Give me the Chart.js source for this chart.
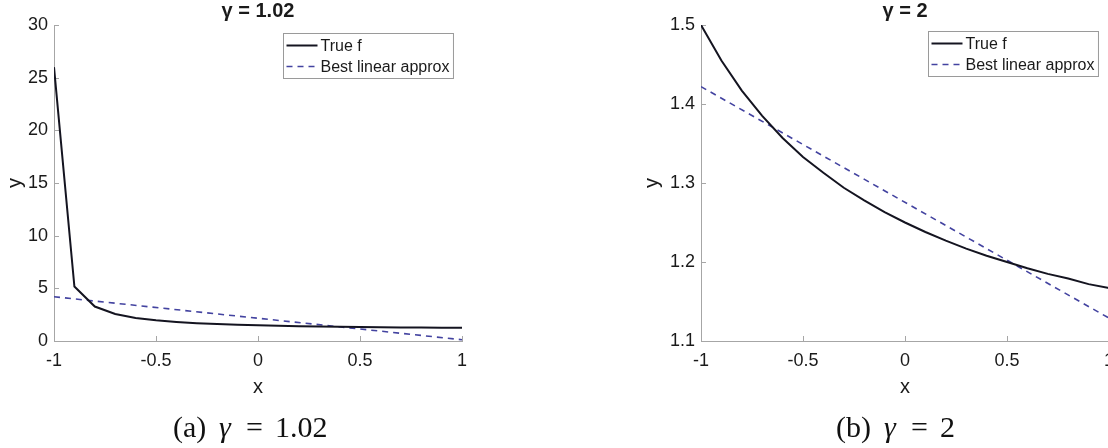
<!DOCTYPE html>
<html>
<head>
<meta charset="utf-8">
<script src="https://cdn.jsdelivr.net/npm/chart.js@4.4.1/dist/chart.umd.min.js"></script>
<style>
  html, body { margin: 0; padding: 0; background: #fff; }
  body { width: 1108px; height: 448px; overflow: hidden; position: relative; }
  canvas { position: absolute; top: 0; }
  #chartA { left: 0; }
  #chartB { left: 560px; }
</style>
</head>
<body>
<canvas id="chartA" width="560" height="448"></canvas>
<canvas id="chartB" width="600" height="448"></canvas>
<script>
// data
const xs = [-1, -0.9, -0.8, -0.7, -0.6, -0.5, -0.4, -0.3, -0.2, -0.1, 0, 0.1, 0.2, 0.3, 0.4, 0.5, 0.6, 0.7, 0.8, 0.9, 1];
const trueA = [26.0, 5.17, 3.27, 2.56, 2.19, 1.96, 1.81, 1.69, 1.61, 1.54, 1.49, 1.45, 1.41, 1.38, 1.35, 1.33, 1.31, 1.29, 1.27, 1.26, 1.25];
const trueB = [1.5, 1.455, 1.417, 1.385, 1.357, 1.333, 1.313, 1.294, 1.278, 1.263, 1.25, 1.238, 1.227, 1.217, 1.208, 1.2, 1.192, 1.185, 1.179, 1.172, 1.167];
const linX = [-1, 1];
const linA = [4.2, 0.12];
const linB = [1.422, 1.129];
const xTicks = [-1, -0.5, 0, 0.5, 1];
const yTicksA = [0, 5, 10, 15, 20, 25, 30];
const yTicksB = [1.1, 1.2, 1.3, 1.4, 1.5];
const seriesNames = ["True f", "Best linear approx"];

const SANS = "'Liberation Sans', Arial, sans-serif";
const SERIF = "'Liberation Serif', 'Times New Roman', serif";
const AXIS = "#a6a6a6";
const INK = "#1a1a1a";

const pairs = (xv, yv) => xv.map((x, i) => ({ x: x, y: yv[i] }));

// title, inward ticks, boxed legend and caption
const decor = {
  id: "decor",
  beforeDatasetsDraw(chart) {
    const { ctx, chartArea: a, scales } = chart;
    ctx.save();
    ctx.strokeStyle = AXIS;
    ctx.lineWidth = 1;
    ctx.beginPath();
    scales.x.ticks.forEach(t => {
      const px = Math.round(scales.x.getPixelForValue(t.value)) + 0.5;
      ctx.moveTo(px, a.bottom);
      ctx.lineTo(px, a.bottom - 5);
    });
    scales.y.ticks.forEach(t => {
      const py = Math.round(scales.y.getPixelForValue(t.value)) + 0.5;
      ctx.moveTo(a.left, py);
      ctx.lineTo(a.left + 5, py);
    });
    ctx.stroke();
    ctx.restore();
  },
  afterDraw(chart, args, o) {
    const { ctx, chartArea: a } = chart;
    ctx.save();
    // title
    ctx.fillStyle = INK;
    ctx.font = "bold 20px " + SANS;
    ctx.textAlign = "center";
    ctx.textBaseline = "middle";
    ctx.fillText(o.title, (a.left + a.right) / 2, 11);

    // legend
    ctx.font = "16px " + SANS;
    const ds = chart.data.datasets;
    const tw = Math.max(...ds.map(d => ctx.measureText(d.label).width));
    const w = 37 + tw + 4, h = 45;
    const bx = Math.round(o.legendRight - w) + 0.5, by = o.legendTop + 0.5;
    ctx.fillStyle = "#fff";
    ctx.fillRect(bx, by, w, h);
    ctx.strokeStyle = "#9a9a9a";
    ctx.lineWidth = 1;
    ctx.strokeRect(bx, by, w, h);
    ds.forEach((d, i) => {
      const cy = by + 12 + i * 21;
      ctx.strokeStyle = d.borderColor;
      ctx.lineWidth = d.borderWidth;
      ctx.setLineDash(d.borderDash || []);
      ctx.beginPath();
      ctx.moveTo(bx + 3, cy);
      ctx.lineTo(bx + 34, cy);
      ctx.stroke();
      ctx.setLineDash([]);
      ctx.fillStyle = INK;
      ctx.textAlign = "left";
      ctx.textBaseline = "middle";
      ctx.fillText(d.label, bx + 37, cy + 1);
    });

    // caption, pieces placed like the typeset original
    ctx.fillStyle = "#111";
    ctx.textAlign = "left";
    ctx.textBaseline = "alphabetic";
    o.caption.forEach(p => {
      ctx.font = (p.italic ? "italic " : "") + "30px " + SERIF;
      ctx.fillText(p.t, o.captionX + p.dx, 437);
    });
    ctx.restore();
  }
};

function makeChart(id, trueY, linY, yTicks, padL, yWidth, padR, deco) {
  return new Chart(document.getElementById(id), {
    type: "line",
    data: {
      datasets: [
        {
          label: seriesNames[0],
          data: pairs(xs, trueY),
          borderColor: "#141420",
          borderWidth: 2,
          pointRadius: 0,
          tension: 0,
        },
        {
          label: seriesNames[1],
          data: pairs(linX, linY),
          borderColor: "#4343a0",
          borderWidth: 1.6,
          borderDash: [6, 5],
          pointRadius: 0,
        },
      ],
    },
    options: {
      responsive: false,
      animation: false,
      devicePixelRatio: 1,
      layout: { padding: { left: padL, right: padR, top: 25, bottom: 0 } },
      plugins: { legend: { display: false }, tooltip: { enabled: false }, decor: deco },
      scales: {
        x: {
          type: "linear",
          min: xTicks[0],
          max: xTicks[xTicks.length - 1],
          afterBuildTicks: s => { s.ticks = xTicks.map(v => ({ value: v })); },
          afterFit: s => { s.height = 107; },
          grid: { display: false, drawTicks: false },
          border: { display: true, color: AXIS, width: 1 },
          ticks: { color: INK, font: { size: 18, family: SANS }, padding: 9, maxRotation: 0, callback: v => String(v) },
          title: { display: true, text: "x", color: INK, font: { size: 20, family: SANS }, padding: { top: 0, bottom: 49 } },
        },
        y: {
          min: yTicks[0],
          max: yTicks[yTicks.length - 1],
          afterBuildTicks: s => { s.ticks = yTicks.map(v => ({ value: v })); },
          afterFit: s => { s.width = yWidth; },
          grid: { display: false, drawTicks: false },
          border: { display: true, color: AXIS, width: 1 },
          ticks: { color: INK, font: { size: 18, family: SANS }, padding: 6, callback: v => String(+v.toFixed(2)) },
          title: { display: true, text: "y", color: INK, font: { size: 20, family: SANS }, padding: { top: 3, bottom: 0 } },
        },
      },
    },
    plugins: [decor],
  });
}

makeChart("chartA", trueA, linA, yTicksA, 0, 54, 98, {
  title: "γ = 1.02",
  legendRight: 453,
  legendTop: 33,
  captionX: 173,
  caption: [{ t: "(a)", dx: 0 }, { t: "γ", dx: 46, italic: true }, { t: "=", dx: 73 }, { t: "1.02", dx: 102 }],
});

makeChart("chartB", trueB, linB, yTicksB, 77, 64, 51, {
  title: "γ = 2",
  legendRight: 538,
  legendTop: 31,
  captionX: 276,
  caption: [{ t: "(b)", dx: 0 }, { t: "γ", dx: 48, italic: true }, { t: "=", dx: 75 }, { t: "2", dx: 104 }],
});
</script>
</body>
</html>
